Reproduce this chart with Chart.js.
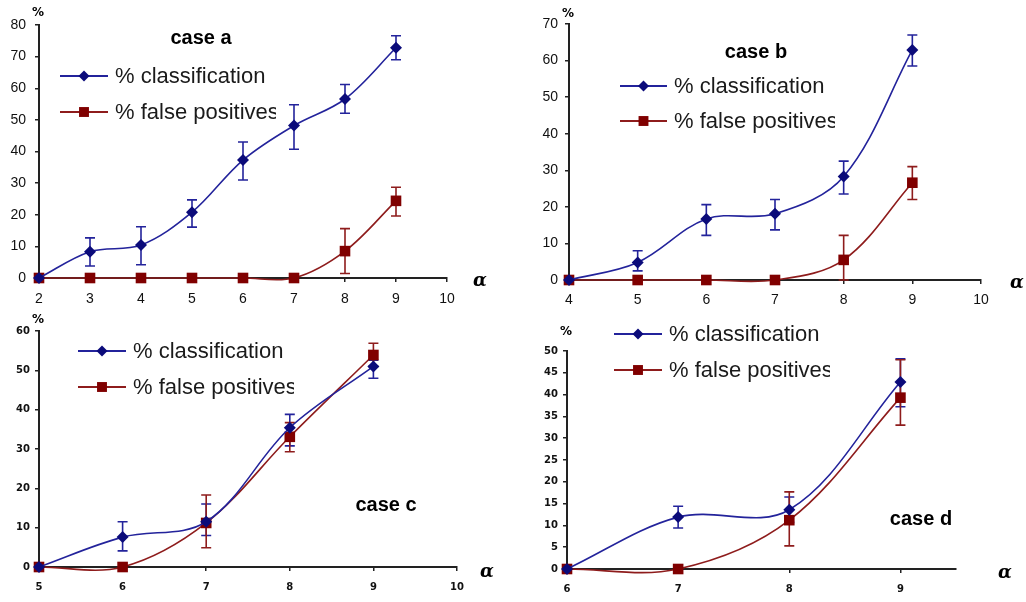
<!DOCTYPE html>
<html>
<head>
<meta charset="utf-8">
<script src="https://cdn.jsdelivr.net/npm/chart.js@4.4.0/dist/chart.umd.min.js"></script>
<style>
    html, body { margin: 0; padding: 0; background: #fff; }
    #wrap { position: relative; width: 1026px; height: 602px; overflow: hidden; background: #fff; }
    canvas { position: absolute; }
</style>
</head>
<body>
<div id="wrap">
    <canvas id="chartA" width="510" height="310" style="left:0;top:0"></canvas>
    <canvas id="chartB" width="516" height="310" style="left:510px;top:0"></canvas>
    <canvas id="chartC" width="510" height="302" style="left:0;top:300px"></canvas>
    <canvas id="chartD" width="516" height="302" style="left:510px;top:300px"></canvas>
</div>
<script>
// case a
const alphaA = [2, 3, 4, 5, 6, 7, 8, 9];
const classA = [0, 8.3, 10.4, 20.8, 37.3, 48.2, 56.6, 72.8];
const classAHi = [null, 12.7, 16.2, 24.7, 43, 54.8, 61.2, 76.6];
const classALo = [null, 3.8, 4.2, 16.1, 31, 40.7, 52.1, 69];
const falseA = [0, 0, 0, 0, 0, 0, 8.5, 24.4];
const falseAHi = [null, null, null, null, null, null, 15.6, 28.7];
const falseALo = [null, null, null, null, null, null, 1.4, 19.6];

// case b
const alphaB = [4, 5, 6, 7, 8, 9];
const classB = [0, 4.8, 16.7, 18.1, 28.3, 62.9];
const classBHi = [null, 8, 20.6, 22, 32.5, 67];
const classBLo = [null, 2.5, 12.2, 13.7, 23.5, 58.5];
const falseB = [0, 0, 0, 0, 5.5, 26.6];
const falseBHi = [null, null, null, null, 12.2, 31];
const falseBLo = [null, null, null, null, 0, 22];

// case c
const alphaC = [5, 6, 7, 8, 9];
const classC = [0, 7.6, 11.5, 35.4, 51];
const classCHi = [null, 11.5, 16, 38.8, 52.6];
const classCLo = [null, 4.1, 8, 30.8, 48];
const falseC = [0, 0, 11.2, 33.1, 53.9];
const falseCHi = [null, null, 18.3, 36.7, 56.9];
const falseCLo = [null, null, 4.9, 29.3, 51];

// case d
const alphaD = [6, 7, 8, 9];
const classD = [0, 11.9, 13.6, 42.9];
const classDHi = [null, 14.4, 16.5, 48.2];
const classDLo = [null, 9.4, 10.7, 37.2];
const falseD = [0, 0, 11.2, 39.3];
const falseDHi = [null, null, 17.7, 48];
const falseDLo = [null, null, 5.3, 33];

const seriesNames = ["% classification", "% false positives"];

const BLUE = "#23239b";
const BLUE_PT = "#0b0b7a";
const RED = "#8e1c1c";
const RED_PT = "#800000";

// error bars drawn from the scales
const errorBars = {
    id: "errorBars",
    beforeDatasetsDraw(chart) {
        const ctx = chart.ctx;
        const yScale = chart.scales.y;
        chart.data.datasets.forEach((ds, di) => {
            const meta = chart.getDatasetMeta(di);
            ctx.save();
            ctx.strokeStyle = ds.borderColor;
            ctx.lineWidth = 1.6;
            meta.data.forEach((pt, i) => {
                const hi = ds.errHi[i], lo = ds.errLo[i];
                if (hi == null || lo == null) return;
                const yh = yScale.getPixelForValue(hi);
                const yl = yScale.getPixelForValue(lo);
                ctx.beginPath();
                ctx.moveTo(pt.x, yh); ctx.lineTo(pt.x, yl);
                ctx.moveTo(pt.x - 5, yh); ctx.lineTo(pt.x + 5, yh);
                ctx.moveTo(pt.x - 5, yl); ctx.lineTo(pt.x + 5, yl);
                ctx.stroke();
            });
            ctx.restore();
        });
    }
};

// legend, title, axis symbols
const decor = {
    id: "decor",
    afterDraw(chart, args, o) {
        const ctx = chart.ctx;
        ctx.save();
        // title
        ctx.fillStyle = "#000";
        ctx.font = "bold 20px 'Liberation Sans', Arial, sans-serif";
        ctx.textAlign = "center";
        ctx.textBaseline = "middle";
        ctx.fillText(o.title, o.titleX, o.titleY);
        // "%" over y axis
        ctx.font = "bold 12px 'DejaVu Sans', sans-serif";
        ctx.fillText("%", o.pctX, o.pctY);
        // alpha after x axis
        ctx.font = "italic bold 18px 'DejaVu Serif', serif";
        ctx.fillText("α", o.alphaX, o.alphaY);
        // legend
        chart.data.datasets.forEach((ds, i) => {
            const y = o.legY[i];
            ctx.strokeStyle = ds.borderColor;
            ctx.lineWidth = 2;
            ctx.beginPath();
            ctx.moveTo(o.legX0, y); ctx.lineTo(o.legX1, y);
            ctx.stroke();
            ctx.fillStyle = ds.pointBackgroundColor;
            Chart.helpers.drawPoint(ctx, {
                pointStyle: ds.pointStyle, radius: ds.pointRadius - 0.5,
                borderWidth: 0, rotation: 0
            }, (o.legX0 + o.legX1) / 2, y);
            ctx.save();
            ctx.beginPath();
            ctx.rect(o.legText, y - 20, 161, 40);
            ctx.clip();
            ctx.fillStyle = "#1a1a1a";
            ctx.font = "22px 'Liberation Sans', Arial, sans-serif";
            ctx.textAlign = "left";
            ctx.fillText(ds.label, o.legText, y + 1);
            ctx.restore();
        });
        ctx.restore();
    }
};

function points(xs, ys) {
    return xs.map((x, i) => ({ x: x, y: ys[i] }));
}

function makeChart(id, cfg) {
    const big = cfg.bigTicks;
    const tickFont = big
        ? { family: "'Liberation Sans', Arial, sans-serif", size: 14 }
        : { family: "'DejaVu Sans', sans-serif", size: 10, weight: "bold" };
    const axisGrid = { display: true, drawOnChartArea: false, drawTicks: true, tickLength: 4, color: "#222", lineWidth: 1.5 };
    const axisBorder = { display: true, color: "#222", width: 2 };

    return new Chart(document.getElementById(id), {
        type: "line",
        data: {
            datasets: [
                {
                    label: seriesNames[0],
                    data: points(cfg.xs, cfg.cls),
                    errHi: cfg.clsHi, errLo: cfg.clsLo,
                    borderColor: BLUE, borderWidth: 1.6,
                    pointStyle: "rectRot", pointRadius: 6,
                    pointBackgroundColor: BLUE_PT, pointBorderColor: BLUE_PT, pointBorderWidth: 0,
                    tension: 0.35, clip: false,
                },
                {
                    label: seriesNames[1],
                    data: points(cfg.xs, cfg.fp),
                    errHi: cfg.fpHi, errLo: cfg.fpLo,
                    borderColor: RED, borderWidth: 1.6,
                    pointStyle: "rect", pointRadius: 7.5,
                    pointBackgroundColor: RED_PT, pointBorderColor: RED_PT, pointBorderWidth: 0,
                    tension: 0.35, clip: false,
                },
            ],
        },
        options: {
            responsive: false,
            animation: false,
            elements: { line: { capBezierPoints: false } },
            layout: { padding: { top: cfg.padTop, right: cfg.padRight, left: 0, bottom: 0 } },
            plugins: {
                legend: { display: false },
                tooltip: { enabled: false },
                decor: cfg.decor,
            },
            scales: {
                x: {
                    type: "linear",
                    min: cfg.xMin, max: cfg.xMax,
                    ticks: { stepSize: 1, color: "#111", font: tickFont, padding: cfg.xPad, maxRotation: 0 },
                    afterBuildTicks: (s) => { s.ticks = s.ticks.filter(t => Number.isInteger(t.value)); },
                    afterFit: (s) => { s.height = cfg.xHeight; },
                    grid: axisGrid, border: axisBorder,
                },
                y: {
                    min: 0, max: cfg.yMax,
                    ticks: { stepSize: cfg.yStep, color: "#111", font: tickFont, padding: cfg.yPad },
                    afterFit: (s) => { s.width = cfg.yWidth; },
                    grid: axisGrid, border: axisBorder,
                },
            },
        },
        plugins: [errorBars, decor],
    });
}

makeChart("chartA", {
    xs: alphaA, cls: classA, clsHi: classAHi, clsLo: classALo, fp: falseA, fpHi: falseAHi, fpLo: falseALo,
    xMin: 2, xMax: 10, yMax: 80, yStep: 10, bigTicks: true,
    yWidth: 39, xHeight: 32, padTop: 25, padRight: 63, xPad: 9, yPad: 9,
    decor: { title: "case a", titleX: 201, titleY: 38, pctX: 38, pctY: 13, alphaX: 480, alphaY: 281,
             legX0: 60, legX1: 108, legY: [76, 112], legText: 115 },
});

makeChart("chartB", {
    xs: alphaB, cls: classB, clsHi: classBHi, clsLo: classBLo, fp: falseB, fpHi: falseBHi, fpLo: falseBLo,
    xMin: 4, xMax: 10, yMax: 70, yStep: 10, bigTicks: true,
    yWidth: 59, xHeight: 30, padTop: 24, padRight: 45, xPad: 8, yPad: 7,
    decor: { title: "case b", titleX: 246, titleY: 52, pctX: 58, pctY: 14, alphaX: 507, alphaY: 283,
             legX0: 110, legX1: 157, legY: [86, 121], legText: 164 },
});

makeChart("chartC", {
    xs: alphaC, cls: classC, clsHi: classCHi, clsLo: classCLo, fp: falseC, fpHi: falseCHi, fpLo: falseCLo,
    xMin: 5, xMax: 10, yMax: 60, yStep: 10, bigTicks: false,
    yWidth: 39, xHeight: 35, padTop: 31, padRight: 53, xPad: 10, yPad: 5,
    decor: { title: "case c", titleX: 386, titleY: 205, pctX: 38, pctY: 20, alphaX: 487, alphaY: 272,
             legX0: 78, legX1: 126, legY: [51, 87], legText: 133 },
});

makeChart("chartD", {
    xs: alphaD, cls: classD, clsHi: classDHi, clsLo: classDLo, fp: falseD, fpHi: falseDHi, fpLo: falseDLo,
    xMin: 6, xMax: 9.5, yMax: 50, yStep: 5, bigTicks: false,
    yWidth: 57, xHeight: 33, padTop: 51, padRight: 70, xPad: 10, yPad: 5,
    decor: { title: "case d", titleX: 411, titleY: 219, pctX: 56, pctY: 32, alphaX: 495, alphaY: 273,
             legX0: 104, legX1: 152, legY: [34, 70], legText: 159 },
});
</script>
</body>
</html>
